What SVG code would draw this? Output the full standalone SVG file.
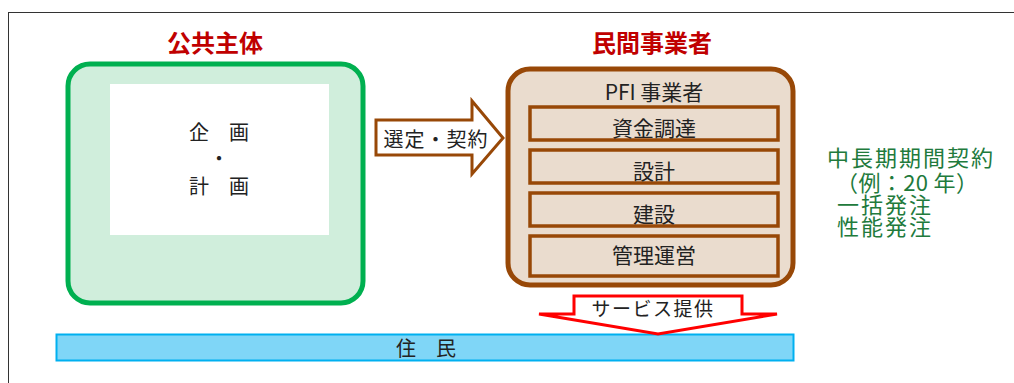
<svg xmlns="http://www.w3.org/2000/svg" width="1014" height="383" viewBox="0 0 1014 383">
<style>
text{font-family:"Noto Sans CJK JP","Noto Sans",sans-serif;fill:#222}
.title{font-size:24px;font-weight:bold;fill:#C00000}
.sub{font-size:21px;text-anchor:middle}
.green{font-size:22px;fill:#217A3C}
.sb{fill:#EADCCE;stroke:#984807;stroke-width:3.5}
</style>
<rect x="8.5" y="12.5" width="1100" height="400" fill="#fff" stroke="#333" stroke-width="1"/>
<g id="public">
<text class="title" x="215" y="52" text-anchor="middle">公共主体</text>
<rect x="68" y="64" width="295" height="239" rx="22" fill="#D0EEDC" stroke="#00B050" stroke-width="5"/>
<rect x="110" y="84" width="219" height="151" fill="#fff"/>
<text x="219" y="140" font-size="20" text-anchor="middle">企　画</text>
<text x="219" y="166" font-size="20" text-anchor="middle">・</text>
<text x="219" y="194" font-size="20" text-anchor="middle">計　画</text>
</g>
<g id="private">
<text class="title" x="652" y="52" text-anchor="middle">民間事業者</text>
<rect x="508" y="69" width="285" height="216" rx="22" fill="#EADCCE" stroke="#984807" stroke-width="5"/>
<text x="654" y="100" font-size="21" text-anchor="middle">PFI 事業者</text>
<rect class="sb" x="530" y="107" width="248" height="33"/>
<text class="sub" x="654" y="136">資金調達</text>
<rect class="sb" x="530" y="150" width="248" height="33"/>
<text class="sub" x="654" y="179">設計</text>
<rect class="sb" x="530" y="193" width="248" height="33"/>
<text class="sub" x="654" y="222">建設</text>
<rect class="sb" x="530" y="236" width="248" height="40"/>
<text class="sub" x="654" y="263">管理運営</text>
</g>
<g id="notes">
<text class="green" x="827" y="166" textLength="166" lengthAdjust="spacing">中長期期間契約</text>
<text class="green" x="836" y="191" textLength="142" lengthAdjust="spacing">（例：20 年）</text>
<text class="green" x="837" y="213" textLength="94" lengthAdjust="spacing">一括発注</text>
<text class="green" x="837" y="235" textLength="94" lengthAdjust="spacing">性能発注</text>
</g>
<g id="residents">
<rect x="56.5" y="334.5" width="737" height="26" fill="#7FD6F7" stroke="#00B0F0" stroke-width="2"/>
<text x="426" y="356" font-size="20" text-anchor="middle">住　民</text>
</g>
<g id="connectors">
<g id="select-contract">
<polygon points="376,120 472,120 472,101 503,138 472,174 472,155 376,155" fill="#fff" stroke="#984807" stroke-width="3"/>
<text x="436" y="147" font-size="20" text-anchor="middle" letter-spacing="1">選定・契約</text>
</g>
<g id="service">
<polygon points="574,296 742,296 742,314 777,314 658,334 539,314 574,314" fill="#fff" stroke="#FF0000" stroke-width="3"/>
<text x="653" y="316" font-size="19" text-anchor="middle" letter-spacing="1.5">サービス提供</text>
</g>
</g>
</svg>
